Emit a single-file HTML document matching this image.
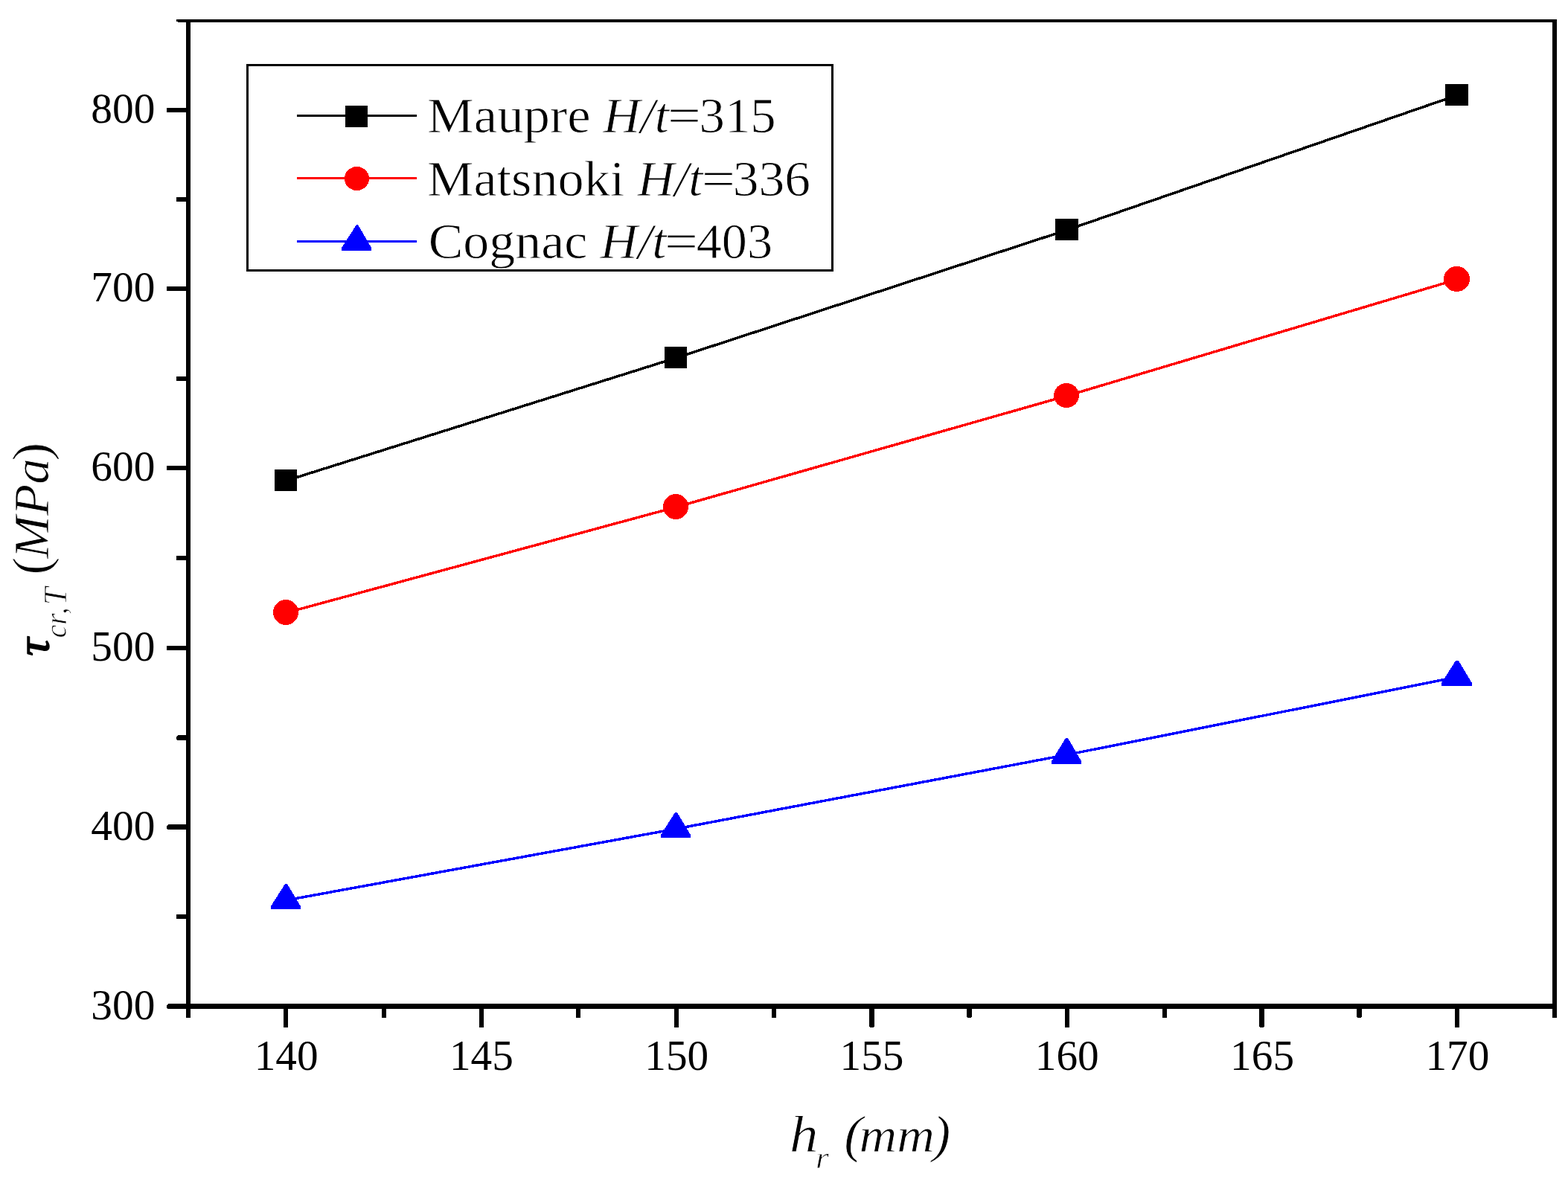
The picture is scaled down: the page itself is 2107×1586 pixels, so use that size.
<!DOCTYPE html>
<html lang="en"><head><meta charset="utf-8"><title>Critical shear stress vs hr</title>
<style>
html,body{margin:0;padding:0;background:#fff;}
body{width:2107px;height:1586px;overflow:hidden;}
svg{display:block;}
text{font-family:"Liberation Serif","DejaVu Serif",serif;fill:#000;}
.it{font-style:italic;}
.bi{font-style:italic;font-weight:bold;}
.th{stroke:#fff;stroke-width:0.8px;}
</style></head><body>
<svg xmlns="http://www.w3.org/2000/svg" width="2107" height="1586" viewBox="0 0 2107 1586">
<rect x="0" y="0" width="2107" height="1586" fill="#fff"/>
<g fill="#000" shape-rendering="crispEdges">
<rect x="250" y="26" width="6" height="1330"/>
<rect x="2086" y="26" width="6" height="1330"/>
<rect x="250" y="26" width="1842" height="4"/>
<rect x="250" y="1349" width="1842" height="7"/>
<rect x="237" y="26" width="14" height="3"/>
<rect x="239" y="29" width="12" height="1"/>
</g>
<g fill="#000" shape-rendering="crispEdges">
<rect x="224" y="1349" width="28" height="7" rx="3.5"/>
<rect x="224" y="1108" width="28" height="7" rx="3.5"/>
<rect x="224" y="868" width="28" height="6" rx="1.6"/>
<rect x="224" y="626" width="28" height="6" rx="1.6"/>
<rect x="224" y="385" width="28" height="6" rx="1.6"/>
<rect x="224" y="145" width="28" height="6" rx="1.6"/>
<rect x="237" y="1229" width="15" height="6" rx="1.6"/>
<rect x="237" y="988" width="15" height="7" rx="3.5"/>
<rect x="237" y="747" width="15" height="6" rx="1.6"/>
<rect x="237" y="506" width="15" height="6" rx="1.6"/>
<rect x="237" y="265" width="15" height="6" rx="1.6"/>
<rect x="381" y="1352" width="6" height="29" rx="1.6"/>
<rect x="644" y="1352" width="6" height="29" rx="1.6"/>
<rect x="906" y="1352" width="6" height="29" rx="1.6"/>
<rect x="1168" y="1352" width="7" height="29" rx="3.5"/>
<rect x="1431" y="1352" width="6" height="29" rx="1.6"/>
<rect x="1692" y="1352" width="7" height="29" rx="3.5"/>
<rect x="1955" y="1352" width="6" height="29" rx="1.6"/>
<rect x="250" y="1352" width="6" height="16" rx="1.6"/>
<rect x="513" y="1352" width="6" height="16" rx="1.6"/>
<rect x="774" y="1352" width="6" height="16" rx="1.6"/>
<rect x="1037" y="1352" width="6" height="16" rx="1.6"/>
<rect x="1299" y="1352" width="7" height="16" rx="3.5"/>
<rect x="1562" y="1352" width="6" height="16" rx="1.6"/>
<rect x="1823" y="1352" width="7" height="16" rx="3.5"/>
<rect x="2086" y="1352" width="6" height="16" rx="1.6"/>
</g>
<g shape-rendering="crispEdges">
<polyline points="384,646.2 908,481.2 1433.5,309.2 1957.5,128.2" fill="none" stroke="#000" stroke-width="3.5"/>
<rect x="369" y="631" width="30" height="29" fill="#000"/>
<rect x="893" y="466" width="30" height="29" fill="#000"/>
<rect x="1418" y="294" width="31" height="29" rx="1.5" fill="#000"/>
<rect x="1942" y="113" width="31" height="29" rx="1.5" fill="#000"/>
<polyline points="384,823.7 908,681.7 1433,532.2 1957.5,375.7" fill="none" stroke="#f00" stroke-width="3.5"/>
<ellipse cx="384.0" cy="823.0" rx="17.0" ry="17.0" fill="#f00"/>
<ellipse cx="908.0" cy="681.0" rx="17.0" ry="17.0" fill="#f00"/>
<ellipse cx="1433.0" cy="531.5" rx="17.0" ry="16.5" fill="#f00"/>
<ellipse cx="1957.5" cy="375.0" rx="17.5" ry="17.0" fill="#f00"/>
<polyline points="384,1210.1 908,1114.1 1433,1014.6 1957.5,910.1" fill="none" stroke="#00f" stroke-width="3.5"/>
<path d="M383,1188 L386,1188 L404,1218 L404,1222 L364,1222 L364,1218 Z" fill="#00f"/>
<path d="M907,1092 L910,1092 L928,1122 L928,1126 L888,1126 L888,1122 Z" fill="#00f"/>
<path d="M1432,992 L1435,992 L1453,1023 L1453,1027 L1413,1027 L1413,1023 Z" fill="#00f"/>
<path d="M1956,888 L1960,888 L1978,918 L1978,922 L1937,922 L1937,918 Z" fill="#00f"/>
</g>
<rect x="332.5" y="87.5" width="786" height="276" fill="#fff" stroke="#000" stroke-width="3" shape-rendering="crispEdges"/>
<g shape-rendering="crispEdges">
<rect x="399" y="154" width="161" height="3" fill="#000"/>
<rect x="399" y="238" width="161" height="3" fill="#f00"/>
<rect x="399" y="323" width="161" height="3" fill="#00f"/>
</g>
<g shape-rendering="crispEdges">
<rect x="464" y="142" width="30" height="29" fill="#000"/>
<ellipse cx="479.5" cy="240.0" rx="16.5" ry="16.0" fill="#f00"/>
<path d="M479,302 L481,302 L499,333 L499,337 L459,337 L459,333 Z" fill="#00f"/>
</g>
<text transform="translate(573.92,178.00) scale(1.0396,1)" font-size="68" class="th">Maupre</text>
<text transform="translate(810.56,178.00) scale(1.0180,1)" font-size="68" class="it th">H/t</text>
<text transform="translate(897.00,178.00) scale(1.1714,1)" font-size="68" class="th">=</text>
<text transform="translate(939.61,178.00) scale(1.0115,1)" font-size="68" class="th">315</text>
<text transform="translate(573.93,263.00) scale(1.0331,1)" font-size="68" class="th">Matsnoki</text>
<text transform="translate(856.66,263.00) scale(1.0079,1)" font-size="68" class="it th">H/t</text>
<text transform="translate(942.77,263.00) scale(1.1810,1)" font-size="68" class="th">=</text>
<text transform="translate(984.77,263.00) scale(1.0233,1)" font-size="68" class="th">336</text>
<text transform="translate(575.77,347.00) scale(1.0276,1)" font-size="68" class="th">Cognac</text>
<text transform="translate(806.57,347.00) scale(1.0258,1)" font-size="68" class="it th">H/t</text>
<text transform="translate(893.00,347.00) scale(1.1714,1)" font-size="68" class="th">=</text>
<text transform="translate(935.64,347.00) scale(1.0041,1)" font-size="68" class="th">403</text>
<text transform="translate(122.36,1369.50) scale(1.0150,1)" font-size="56.5">300</text>
<text transform="translate(122.36,1128.50) scale(1.0150,1)" font-size="56.5">400</text>
<text transform="translate(122.36,888.00) scale(1.0150,1)" font-size="56.5">500</text>
<text transform="translate(122.36,646.00) scale(1.0150,1)" font-size="56.5">600</text>
<text transform="translate(122.36,405.00) scale(1.0150,1)" font-size="56.5">700</text>
<text transform="translate(122.36,165.00) scale(1.0150,1)" font-size="56.5">800</text>
<text transform="translate(341.67,1438.00) scale(1.0142,1)" font-size="56.5">140</text>
<text transform="translate(603.96,1438.00) scale(1.0142,1)" font-size="56.5">145</text>
<text transform="translate(866.24,1438.00) scale(1.0142,1)" font-size="56.5">150</text>
<text transform="translate(1128.53,1438.00) scale(1.0142,1)" font-size="56.5">155</text>
<text transform="translate(1390.81,1438.00) scale(1.0142,1)" font-size="56.5">160</text>
<text transform="translate(1653.10,1438.00) scale(1.0142,1)" font-size="56.5">165</text>
<text transform="translate(1915.38,1438.00) scale(1.0142,1)" font-size="56.5">170</text>
<text transform="translate(1060.93,1547.90) scale(1.1077,1)" font-size="69.5" class="it th">h</text>
<text transform="translate(1096.00,1569.60) scale(1.1429,1)" font-size="40" class="it th">r</text>
<text transform="translate(1134.23,1547.90) scale(1.0680,1)" font-size="70" class="it th">(</text>
<text transform="translate(1154.54,1547.90) scale(1.0633,1)" font-size="66" class="it th">mm</text>
<text transform="translate(1253.14,1547.90) scale(1.0286,1)" font-size="70" class="it th">)</text>
<text transform="translate(65.20,881.87) rotate(-90) scale(1.0989,1)" font-size="61.5" class="it" stroke="#000" stroke-width="1.5" stroke-linejoin="round">τ</text>
<text transform="translate(89.05,857.47) rotate(-90) scale(1.0142,1)" font-size="39.5" class="it th">cr</text>
<text transform="translate(89.05,825.55) rotate(-90) scale(0.8308,1)" font-size="43" class="it th">,</text>
<text transform="translate(89.05,813.16) rotate(-90) scale(0.9872,1)" font-size="43.3" class="it th">T</text>
<text transform="translate(64.70,772.84) rotate(-90) scale(1.0479,1)" font-size="69" class="th">(</text>
<text transform="translate(64.70,750.64) rotate(-90) scale(1.0180,1)" font-size="68" class="it th">MPa</text>
<text transform="translate(64.70,619.45) rotate(-90) scale(1.0873,1)" font-size="69" class="th">)</text>
</svg>
</body></html>
